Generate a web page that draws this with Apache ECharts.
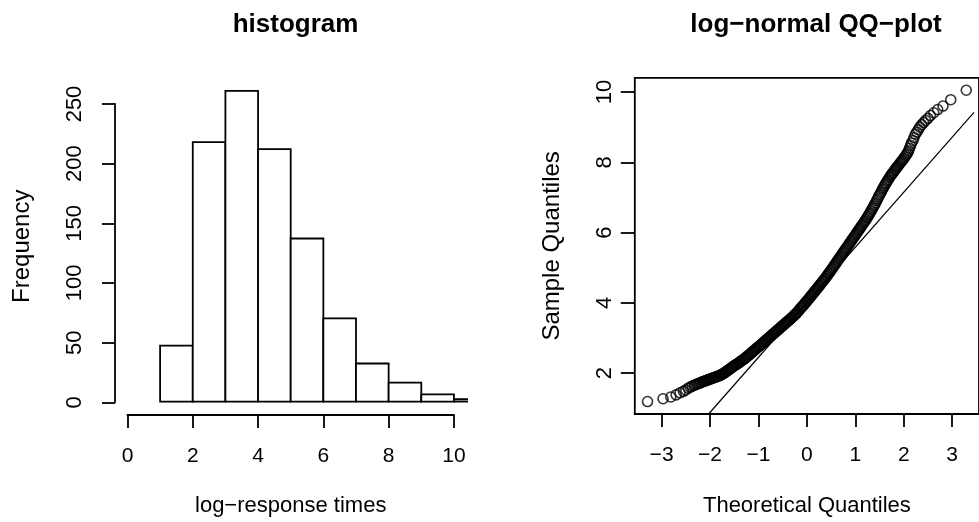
<!DOCTYPE html>
<html>
<head>
<meta charset="utf-8">
<script src="https://cdn.jsdelivr.net/npm/echarts@6/dist/echarts.min.js"></script>
<style>
html, body { margin: 0; padding: 0; background: #fff; }
#chart { width: 979px; height: 522px; }
</style>
</head>
<body>
<div id="chart"></div>
<script>
// histogram of the log-response times
var binStart = [1, 2, 3, 4, 5, 6, 7, 8, 9, 10];
var binEnd = [2, 3, 4, 5, 6, 7, 8, 9, 10, 11];
var binCount = [47, 218, 261, 212, 137, 70, 32, 16, 6, 2];
var histXTicks = [0, 2, 4, 6, 8, 10];
var histYTicks = [0, 50, 100, 150, 200, 250];

// QQ-plot: theoretical vs sample quantiles
var theoQ = [
  -3.29, -2.97, -2.81, -2.70, -2.62, -2.55, -2.50, -2.45, -2.41, -2.37,
  -2.33, -2.30, -2.27, -2.24, -2.21, -2.19, -2.16, -2.14, -2.12, -2.10,
  -2.08, -2.06, -2.04, -2.02, -2.00, -1.98, -1.96, -1.94, -1.92, -1.90,
  -1.88, -1.86, -1.84, -1.82, -1.80, -1.78, -1.76, -1.74, -1.72, -1.70,
  -1.68, -1.66, -1.64, -1.62, -1.60, -1.58, -1.56, -1.54, -1.52, -1.50,
  -1.48, -1.46, -1.44, -1.42, -1.40, -1.38, -1.36, -1.34, -1.32, -1.30,
  -1.28, -1.26, -1.24, -1.22, -1.20, -1.18, -1.16, -1.14, -1.12, -1.10,
  -1.08, -1.06, -1.04, -1.02, -1.00, -0.98, -0.96, -0.94, -0.92, -0.90,
  -0.88, -0.86, -0.84, -0.82, -0.80, -0.78, -0.76, -0.74, -0.72, -0.70,
  -0.68, -0.66, -0.64, -0.62, -0.60, -0.58, -0.56, -0.54, -0.52, -0.50,
  -0.48, -0.46, -0.44, -0.42, -0.40, -0.38, -0.36, -0.34, -0.32, -0.30,
  -0.28, -0.26, -0.24, -0.22, -0.20, -0.18, -0.16, -0.14, -0.12, -0.10,
  -0.08, -0.06, -0.04, -0.02, 0.00, 0.02, 0.04, 0.06, 0.08, 0.10,
  0.12, 0.14, 0.16, 0.18, 0.20, 0.22, 0.24, 0.26, 0.28, 0.30,
  0.32, 0.34, 0.36, 0.38, 0.40, 0.42, 0.44, 0.46, 0.48, 0.50,
  0.52, 0.54, 0.56, 0.58, 0.60, 0.62, 0.64, 0.66, 0.68, 0.70,
  0.72, 0.74, 0.76, 0.78, 0.80, 0.82, 0.84, 0.86, 0.88, 0.90,
  0.92, 0.94, 0.96, 0.98, 1.00, 1.02, 1.04, 1.06, 1.08, 1.10,
  1.12, 1.14, 1.16, 1.18, 1.20, 1.22, 1.24, 1.26, 1.28, 1.30,
  1.32, 1.34, 1.36, 1.38, 1.40, 1.42, 1.44, 1.46, 1.48, 1.50,
  1.52, 1.54, 1.56, 1.58, 1.60, 1.62, 1.64, 1.66, 1.68, 1.70,
  1.72, 1.74, 1.76, 1.78, 1.80, 1.82, 1.84, 1.86, 1.88, 1.90,
  1.92, 1.94, 1.96, 1.98, 2.00, 2.02, 2.04, 2.06, 2.08,
  2.10, 2.12, 2.14, 2.16, 2.19, 2.21, 2.24, 2.27, 2.30, 2.33,
  2.37, 2.41, 2.45, 2.50, 2.55, 2.62, 2.70, 2.81, 2.97, 3.29
];
var sampleQ = [
  1.19, 1.27, 1.32, 1.38, 1.44, 1.48, 1.52, 1.57, 1.60, 1.63,
  1.65, 1.67, 1.69, 1.70, 1.72, 1.73, 1.75, 1.76, 1.77, 1.78,
  1.79, 1.80, 1.81, 1.82, 1.83, 1.84, 1.85, 1.86, 1.87, 1.88,
  1.89, 1.90, 1.91, 1.92, 1.93, 1.95, 1.96, 1.98, 1.99, 2.01,
  2.03, 2.05, 2.07, 2.09, 2.11, 2.13, 2.15, 2.17, 2.19, 2.21,
  2.23, 2.24, 2.26, 2.28, 2.30, 2.32, 2.34, 2.36, 2.38, 2.40,
  2.42, 2.44, 2.47, 2.49, 2.51, 2.53, 2.56, 2.58, 2.61, 2.63,
  2.65, 2.68, 2.70, 2.73, 2.75, 2.77, 2.80, 2.82, 2.85, 2.87,
  2.89, 2.92, 2.94, 2.97, 2.99, 3.01, 3.04, 3.06, 3.09, 3.11,
  3.13, 3.16, 3.18, 3.21, 3.23, 3.25, 3.28, 3.30, 3.33, 3.35,
  3.37, 3.40, 3.42, 3.45, 3.47, 3.49, 3.52, 3.54, 3.57, 3.59,
  3.62, 3.65, 3.67, 3.70, 3.73, 3.76, 3.79, 3.83, 3.86, 3.89,
  3.92, 3.95, 3.99, 4.02, 4.05, 4.08, 4.12, 4.15, 4.19, 4.22,
  4.25, 4.29, 4.32, 4.36, 4.39, 4.42, 4.46, 4.49, 4.53, 4.56,
  4.60, 4.63, 4.67, 4.70, 4.74, 4.78, 4.82, 4.85, 4.89, 4.93,
  4.97, 5.01, 5.05, 5.09, 5.13, 5.17, 5.21, 5.25, 5.29, 5.33,
  5.37, 5.41, 5.45, 5.49, 5.53, 5.57, 5.61, 5.65, 5.69, 5.73,
  5.77, 5.81, 5.85, 5.89, 5.93, 5.97, 6.01, 6.05, 6.09, 6.13,
  6.17, 6.21, 6.25, 6.29, 6.33, 6.37, 6.42, 6.46, 6.51, 6.55,
  6.60, 6.65, 6.70, 6.75, 6.80, 6.85, 6.91, 6.96, 7.02, 7.07,
  7.12, 7.17, 7.23, 7.28, 7.33, 7.38, 7.42, 7.47, 7.51, 7.56,
  7.60, 7.64, 7.67, 7.71, 7.75, 7.79, 7.82, 7.86, 7.89, 7.93,
  7.97, 8.00, 8.04, 8.07, 8.11, 8.15, 8.19, 8.23, 8.27,
  8.33, 8.40, 8.48, 8.55, 8.62, 8.70, 8.80, 8.86, 8.93, 9.00,
  9.07, 9.13, 9.19, 9.25, 9.33, 9.41, 9.50, 9.60, 9.78, 10.05
];
var qqLineX = [-2.02, 3.45];
var qqLineY = [0.85, 9.42];
var qqXTicks = [-3, -2, -1, 0, 1, 2, 3];
var qqYTicks = [2, 4, 6, 8, 10];

var font = 'Liberation Sans, Arial, Helvetica, sans-serif';
var ink = '#000';
var labelStyle = { color: ink, fontFamily: font, fontSize: 21 };
var sideLabelStyle = { color: ink, fontFamily: font, fontSize: 22 };
var nameStyle = { color: ink, fontFamily: font, fontSize: 22 };
var sideNameStyle = { color: ink, fontFamily: font, fontSize: 24 };
var axisPen = { color: ink, width: 1.8 };

function minusLabel(v) {
    return v < 0 ? '\u2212' + Math.abs(v) : String(v);
}

// axis that only carries the title (R puts the title relative to the plot region)
function regionAxis(min, max, name, gap, grid, isY) {
    return {
        gridIndex: grid, type: 'value', min: min, max: max,
        name: name, nameLocation: 'middle', nameGap: gap, nameRotate: isY ? 90 : 0,
        nameTextStyle: isY ? sideNameStyle : nameStyle,
        axisLine: { show: false, onZero: false },
        axisTick: { show: false }, axisLabel: { show: false }, splitLine: { show: false }
    };
}

var histData = binStart.map(function (s, i) { return [s, binEnd[i], binCount[i]]; });
var qqData = theoQ.map(function (q, i) { return [q, sampleQ[i]]; });
var qqLine = qqLineX.map(function (x, i) { return [x, qqLineY[i]]; });

var chart = echarts.init(document.getElementById('chart'));

chart.setOption({
    animation: false,
    backgroundColor: '#fff',
    title: [
        { text: 'histogram', left: 290.5, top: 7, textAlign: 'center',
          textStyle: { fontFamily: font, fontSize: 26, fontWeight: 'bold', color: ink } },
        { text: 'log\u2212normal QQ\u2212plot', left: 811, top: 7, textAlign: 'center',
          textStyle: { fontFamily: font, fontSize: 26, fontWeight: 'bold', color: ink } }
    ],
    grid: [
        { left: 114.4, top: 78.5, width: 352.6, height: 336.2 },
        { left: 127.5, top: 104, width: 326.5, height: 298.3 },
        { left: 634.8, top: 77.8, width: 351.7, height: 336.5, show: true,
          borderColor: ink, borderWidth: 1.8, backgroundColor: 'transparent' }
    ],
    xAxis: [
        regionAxis(-0.4, 10.4, 'log\u2212response times', 81, 0, false),
        {
            gridIndex: 1, type: 'value', min: histXTicks[0], max: histXTicks[histXTicks.length - 1],
            offset: 12.7,
            axisLine: { show: true, onZero: false, lineStyle: axisPen },
            axisTick: { show: true, inside: false, length: 13, lineStyle: axisPen, customValues: histXTicks },
            axisLabel: Object.assign({ margin: 31, customValues: histXTicks }, labelStyle),
            splitLine: { show: false }
        },
        {
            gridIndex: 2, type: 'value', min: -3.553, max: 3.553,
            name: 'Theoretical Quantiles', nameLocation: 'middle', nameGap: 81, nameTextStyle: nameStyle,
            axisLine: { show: false, onZero: false },
            axisTick: { show: true, inside: false, length: 13, lineStyle: axisPen, customValues: qqXTicks },
            axisLabel: Object.assign({ margin: 31, customValues: qqXTicks, formatter: minusLabel }, labelStyle),
            splitLine: { show: false }
        }
    ],
    yAxis: [
        regionAxis(-10.4, 271.4, 'Frequency', 80, 0, true),
        {
            gridIndex: 1, type: 'value', min: histYTicks[0], max: histYTicks[histYTicks.length - 1],
            offset: 12.5,
            axisLine: { show: true, onZero: false, lineStyle: axisPen },
            axisTick: { show: true, inside: false, length: 13, lineStyle: axisPen, customValues: histYTicks },
            axisLabel: Object.assign({ margin: 29.5, rotate: 90, customValues: histYTicks }, sideLabelStyle),
            splitLine: { show: false }
        },
        {
            gridIndex: 2, type: 'value', min: 0.836, max: 10.404,
            name: 'Sample Quantiles', nameLocation: 'middle', nameGap: 70, nameRotate: 90, nameTextStyle: sideNameStyle,
            axisLine: { show: false, onZero: false },
            axisTick: { show: true, inside: false, length: 14, lineStyle: axisPen, customValues: qqYTicks },
            axisLabel: Object.assign({ margin: 18.5, rotate: 90, customValues: qqYTicks }, sideLabelStyle),
            splitLine: { show: false }
        }
    ],
    series: [
        {
            type: 'custom', xAxisIndex: 0, yAxisIndex: 0, clip: true,
            data: histData,
            encode: { x: [0, 1], y: 2 },
            renderItem: function (params, api) {
                var topLeft = api.coord([api.value(0), api.value(2)]);
                var bottomRight = api.coord([api.value(1), 0]);
                return {
                    type: 'rect',
                    shape: { x: topLeft[0], y: topLeft[1],
                             width: bottomRight[0] - topLeft[0], height: bottomRight[1] - topLeft[1] },
                    style: { fill: '#fff', stroke: ink, lineWidth: 1.8 }
                };
            }
        },
        {
            type: 'scatter', xAxisIndex: 2, yAxisIndex: 2,
            data: qqData,
            symbol: 'circle', symbolSize: 10,
            itemStyle: { color: 'rgba(0,0,0,0)', borderColor: ink, borderWidth: 1.6 },
            emphasis: { disabled: true }, silent: true
        },
        {
            type: 'line', xAxisIndex: 2, yAxisIndex: 2, clip: true,
            data: qqLine, symbol: 'none',
            lineStyle: { color: ink, width: 1.2 },
            emphasis: { disabled: true }, silent: true
        }
    ]
});
</script>
</body>
</html>
